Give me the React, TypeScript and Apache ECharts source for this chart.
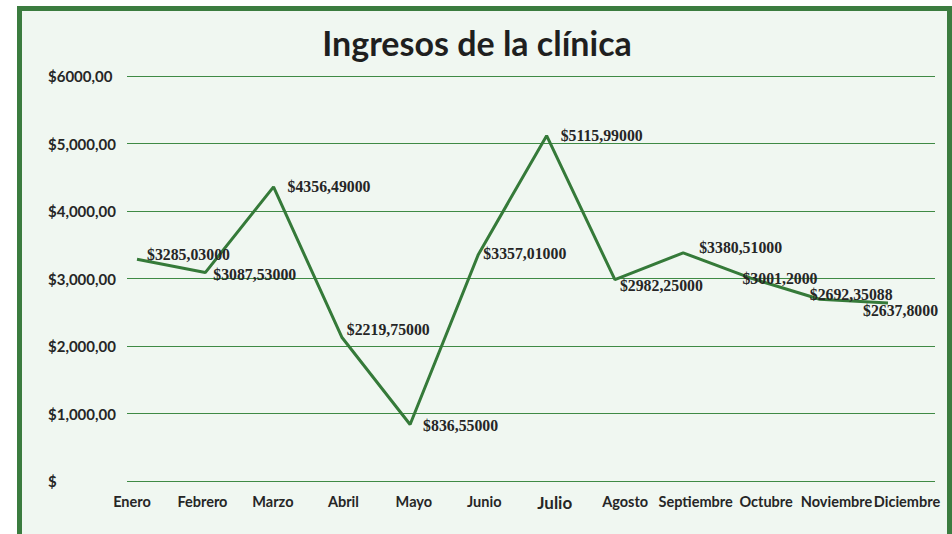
import React, { useEffect, useRef } from "react";
import * as echarts from "echarts";

const months = [
  "Enero", "Febrero", "Marzo", "Abril", "Mayo", "Junio",
  "Julio", "Agosto", "Septiembre", "Octubre", "Noviembre", "Diciembre",
];
const ingresos = [
  3285.03, 3087.53, 4356.49, 2130, 836.55, 3357.01,
  5115.99, 2982.25, 3380.51, 3001.2, 2692.35, 2637.8,
];
const labelTexts = [
  "$3285,03000", "$3087,53000", "$4356,49000", "$2219,75000", "$836,55000", "$3357,01000",
  "$5115,99000", "$2982,25000", "$3380,51000", "$3001,2000", "$2692,35088", "$2637,8000",
];
const yTickLabels: Record<number, string> = {
  0: "$",
  1000: "$1,000,00",
  2000: "$2,000,00",
  3000: "$3,000,00",
  4000: "$4,000,00",
  5000: "$5,000,00",
  6000: "$6000,00",
};
// label offsets [dx, dy] relative to the point (styling only)
const labelOffsets: [number, number][] = [
  [9, -5], [7, 2], [13, 0], [4, -8], [12, 1], [4, -1],
  [13, 0], [4, 6], [15, -5], [-10, 0], [-11, -5], [-26, 8],
];

const GREEN = "#357a39";
const TEXT = "#262626";

export default function App() {
  const ref = useRef<HTMLDivElement>(null);
  useEffect(() => {
    if (!ref.current) return;
    const chart = echarts.init(ref.current, undefined, { renderer: "svg" });
    const top = 76;
    const bottom = 534 - 481;
    chart.setOption({
      animation: false,
      backgroundColor: "transparent",
      graphic: [
        {
          type: "text",
          x: 477,
          y: 42,
          style: {
            text: "Ingresos de la clínica",
            fontFamily: "Lato",
            fontWeight: "bold",
            fontSize: 34,
            fill: "#1f1f1f",
            textAlign: "center",
            textVerticalAlign: "middle",
          },
        },
      ],
      grid: [
        { left: 127, right: 17, top, bottom },
        { left: 137, right: 952 - 888, top, bottom },
        { left: 132, right: 952 - 907, top, bottom },
      ],
      xAxis: [
        { gridIndex: 0, type: "category", data: months, show: false },
        { gridIndex: 1, type: "category", data: months, boundaryGap: false, show: false },
        {
          gridIndex: 2,
          type: "category",
          boundaryGap: false,
          data: months.map((m) =>
            m === "Julio" ? { value: m, textStyle: { fontSize: 17 } } : m
          ),
          axisLine: { show: false },
          axisTick: { show: false },
          splitLine: { show: false },
          axisLabel: {
            interval: 0,
            margin: 13,
            fontFamily: "Lato",
            fontWeight: "bold",
            fontSize: 14.5,
            color: TEXT,
          },
        },
      ],
      yAxis: [
        {
          gridIndex: 0,
          type: "value",
          min: 0,
          max: 6000,
          interval: 1000,
          axisLine: { show: false },
          axisTick: { show: false },
          splitLine: { show: true, lineStyle: { color: "#3f8a45", width: 1 } },
          axisLabel: {
            align: "right",
            margin: 15,
            formatter: (v: number) => `{a|${yTickLabels[v] ?? ""}}`,
            rich: {
              a: {
                width: 64,
                align: "left",
                fontFamily: "Lato",
                fontWeight: "bold",
                fontSize: 15,
                color: TEXT,
              },
            },
          },
        },
        { gridIndex: 1, type: "value", min: 0, max: 6000, interval: 1000, show: false, splitLine: { show: false } },
        { gridIndex: 2, type: "value", min: 0, max: 6000, interval: 1000, show: false, splitLine: { show: false } },
      ],
      series: [
        {
          type: "line",
          xAxisIndex: 1,
          yAxisIndex: 1,
          data: ingresos.map((v, i) => ({
            value: v,
            label: { offset: labelOffsets[i] },
          })),
          symbol: "circle",
          symbolSize: 2,
          showSymbol: true,
          itemStyle: { color: "rgba(0,0,0,0)" },
          lineStyle: { color: GREEN, width: 3 },
          label: {
            show: true,
            position: "right",
            distance: 0,
            fontFamily: "Liberation Serif",
            fontWeight: "bold",
            fontSize: 15.8,
            color: TEXT,
            formatter: (p: any) => labelTexts[p.dataIndex],
          },
        },
      ],
    });
    return () => chart.dispose();
  }, []);

  return (
    <div style={{ position: "fixed", left: 0, top: 0, width: 952, height: 534, background: "#ffffff", overflow: "hidden" }}>
      <div
        style={{
          position: "absolute",
          left: 17,
          top: 6,
          width: 925,
          height: 560,
          border: "5px solid #3b7c3f",
          background: "#f0f7f1",
        }}
      />
      <div ref={ref} style={{ position: "absolute", left: 0, top: 0, width: 952, height: 534 }} />
    </div>
  );
}
